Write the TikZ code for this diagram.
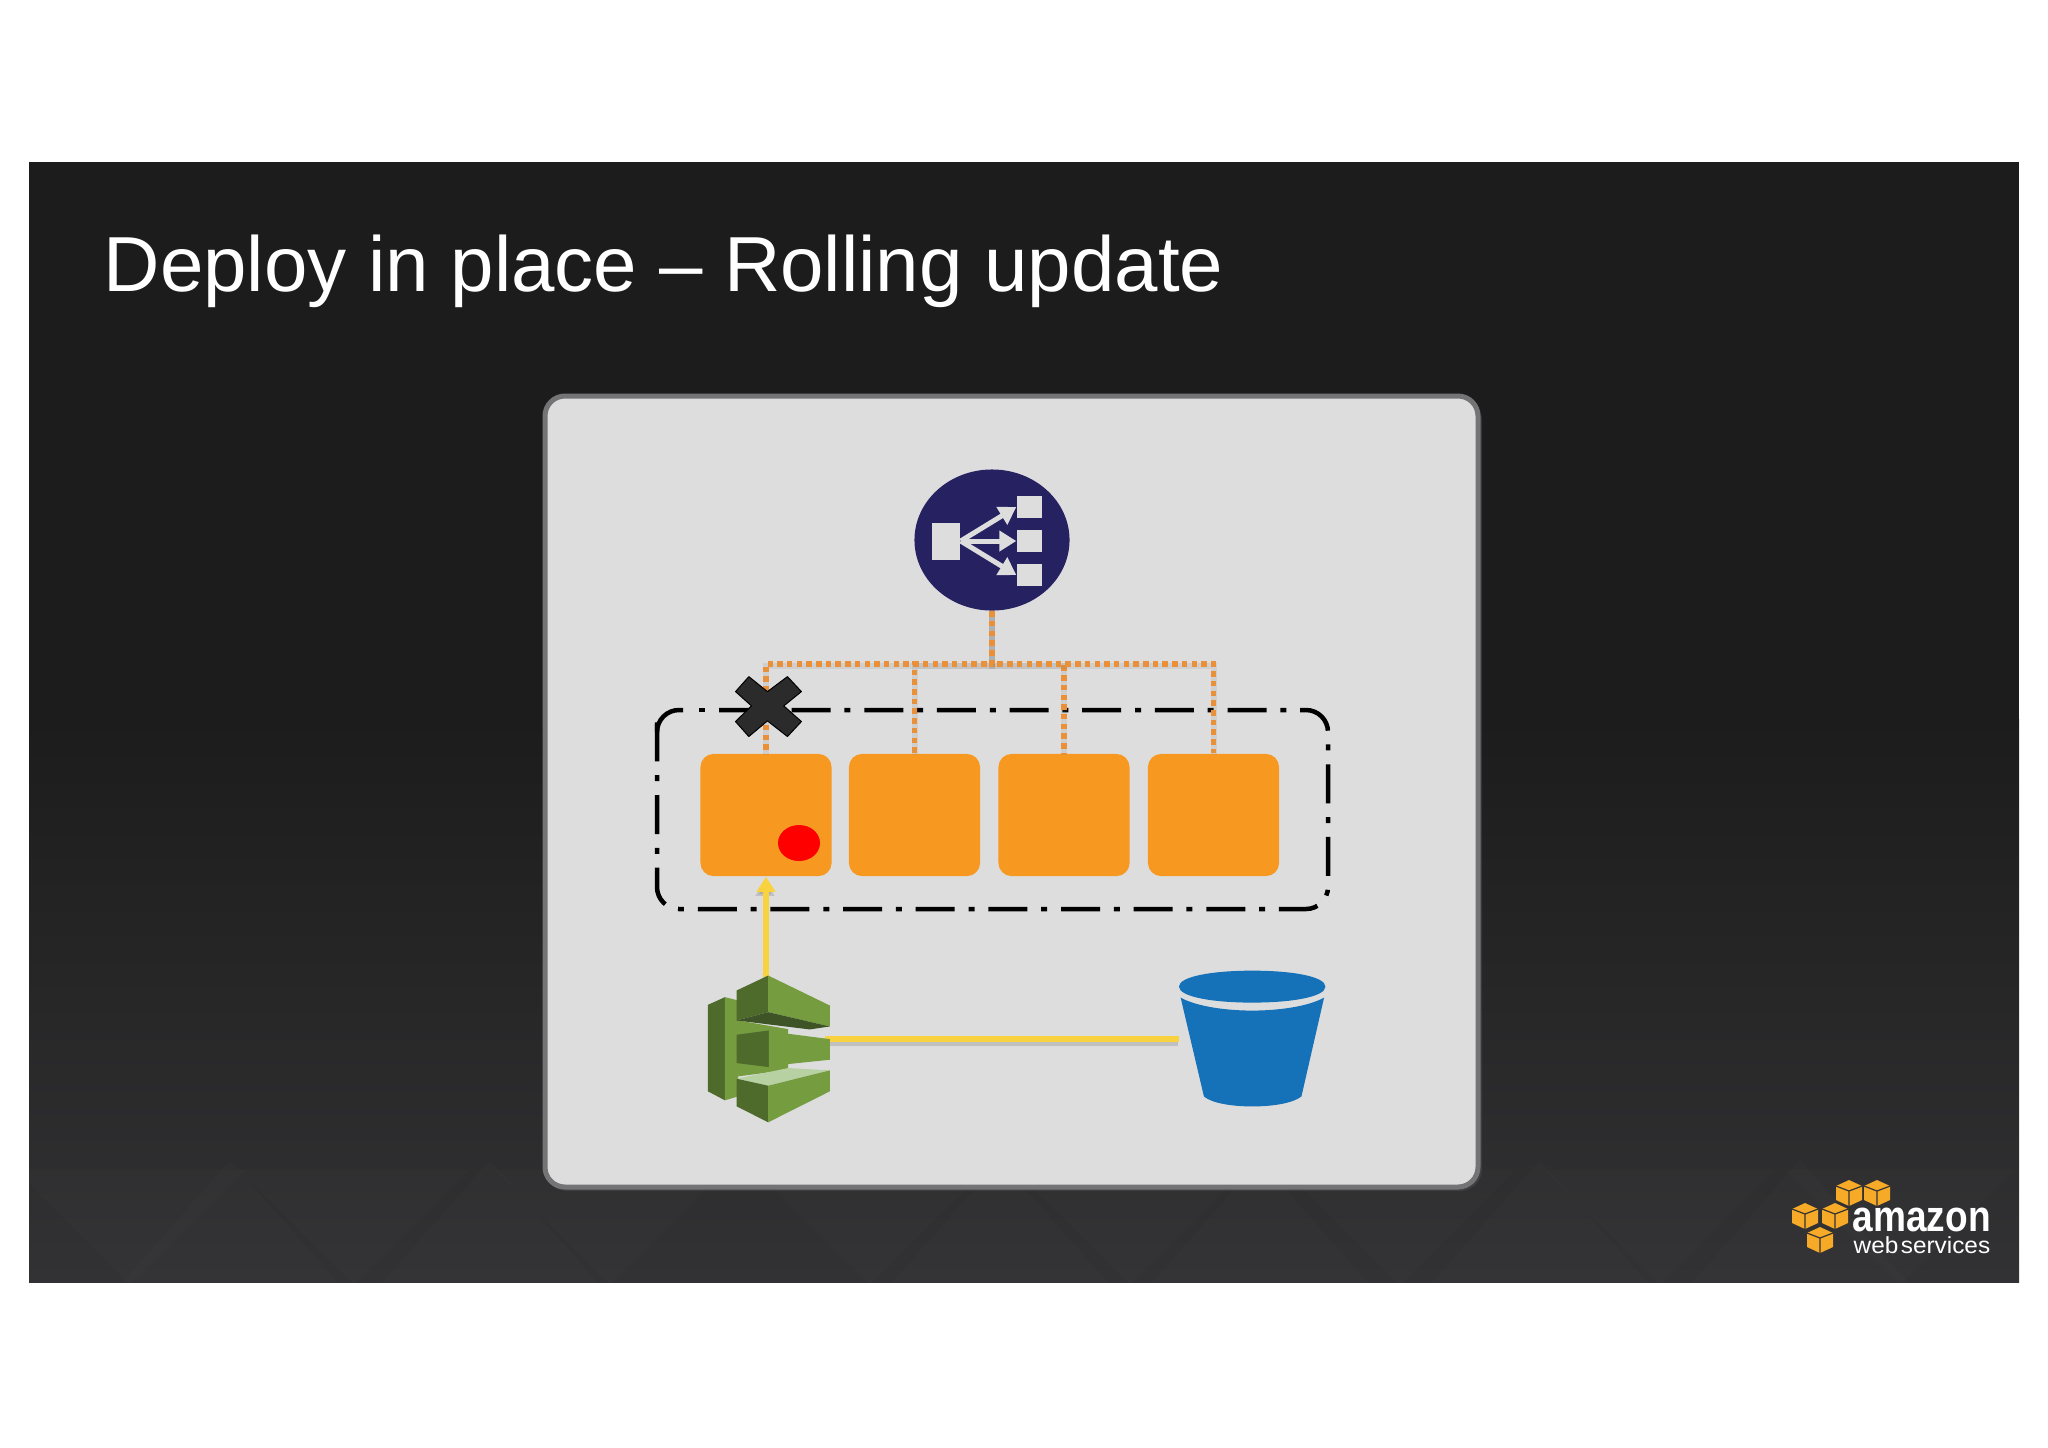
\documentclass[tikz,border=0pt]{standalone}
\usepackage{fontspec}
\setmainfont{Liberation Sans}
\usetikzlibrary{arrows.meta,shapes.geometric}
\definecolor{slidetop}{HTML}{1C1C1C}
\definecolor{slidebottom}{HTML}{323234}
\definecolor{panelgrey}{HTML}{DDDDDE}
\definecolor{panelline}{HTML}{747476}
\definecolor{elbblue}{HTML}{262262}
\definecolor{instorange}{HTML}{F79820}
\definecolor{dotorange}{HTML}{E99038}
\definecolor{deployyellow}{HTML}{F8D23F}
\definecolor{greenlight}{HTML}{759C3E}
\definecolor{greendark}{HTML}{4E6B2C}
\definecolor{greendeep}{HTML}{3E5426}
\definecolor{greenpale}{HTML}{B8D1A2}
\definecolor{bucketblue}{HTML}{1571B8}
\definecolor{cubeorange}{HTML}{F7A928}
\tikzset{
    inst/.style={fill=instorange, rounded corners=0.13cm, minimum width=1.31cm, minimum height=1.22cm, inner sep=0pt},
    dotline/.style={line width=0.055cm, draw=dotorange, dash pattern=on 0.055cm off 0.042cm,
        preaction={draw=gray, solid, line width=0.06cm, opacity=0.14, transform canvas={yshift=-0.02cm}}},
    yellowline/.style={line width=0.055cm, draw=deployyellow,
        preaction={draw=gray, line width=0.05cm, opacity=0.3, transform canvas={yshift=-0.04cm,xshift=-0.01cm}}},
    boxsquare/.style={fill=panelgrey},
    groupline/.style={line width=0.045cm, rounded corners=0.22cm},
}
\begin{document}
\begin{tikzpicture}[x=0.01cm,y=-0.01cm]
    \useasboundingbox (0,0) rectangle (2048,1447);

    % Slide background
    \fill[slidetop] (29,162) rectangle (2019,720);
    \shade[top color=slidetop, bottom color=slidebottom] (29,719) rectangle (2019,1282);
    \begin{scope}
        \clip (29,162) rectangle (2019,1282);
        \foreach \px in {130,354,610,870,1130,1400,1660,1900}
            \fill[white, opacity=0.012] (\px-115,1170) -- (\px+115,1170) -- (\px,1285) -- cycle;
        \foreach \px in {230,490,1000,1260,1540,1800}
            \fill[white, opacity=0.01] (\px-110,1285) -- (\px,1160) -- (\px+110,1285) -- cycle;
    \end{scope}

    % Title
    \node[anchor=base west, inner sep=0pt, text=white, font=\fontsize{22.2}{27}\selectfont] (title) at (103,291) {Deploy in place – Rolling update};

    % Panel
    \fill[gray!60!black, opacity=0.5, rounded corners=0.22cm] (545,398) rectangle (1482,1191);
    \draw[line width=0.05cm, draw=panelline, fill=panelgrey, rounded corners=0.2cm] (545,396) rectangle (1478,1187);

    % Group of instances
    \draw[groupline, dash pattern=on 0.39cm off 0.138cm on 0.06cm off 0.138cm]
        (719,710) -- (1328,710) -- (1328,909) -- (657,909) -- (657,722);
    \draw[groupline] (657,724) -- (657,710) -- (683,710);
    \draw[groupline] (699,710) -- (705,710);

    % Instances
    \node[inst] (inst1) at (766,815) {};
    \node[inst] (inst2) at (914.5,815) {};
    \node[inst] (inst3) at (1064,815) {};
    \node[inst] (inst4) at (1213.5,815) {};
    \node[ellipse, fill=red, minimum width=0.42cm, minimum height=0.36cm, inner sep=0pt] (dot) at (799,843) {};

    % Load balancer
    \node[ellipse, fill=elbblue, minimum width=1.55cm, minimum height=1.41cm, inner sep=0pt] (elb) at (992,540) {};
    \node[boxsquare, minimum width=0.28cm, minimum height=0.37cm, inner sep=0pt] (elbin) at (946,541) {};
    \foreach \i/\py in {1/507,2/541,3/575}
        \node[boxsquare, minimum width=0.25cm, minimum height=0.22cm, inner sep=0pt] (elbout\i) at (1029.5,\py) {};
    \foreach \i in {1,2,3}
        \draw[line width=0.05cm, draw=panelgrey, -{Triangle[length=0.17cm,width=0.2cm]}] (elbin.east) -- (elbout\i.west);

    % Connectors to the instances
    \coordinate (bus) at (992,664);
    \foreach \i in {1,...,4}
        \draw[dotline] (elb.south) -- (bus) -| (inst\i.north);

    % Cross
    \begin{scope}[shift={(640,640)},x=0.003333cm,y=-0.003333cm]
        \draw[fill=black!83, draw=black, line width=0.01cm, line join=round] (327,110) -- (383,155) -- (443,110) -- (485,155)
            -- (432,198) -- (485,245) -- (443,290) -- (383,243) -- (327,290) -- (287,245) -- (335,198) -- (287,155) -- cycle;
    \end{scope}

    % Deploy arrows
    \coordinate (deploy) at (766,977);
    \coordinate (deployside) at (825,1039);
    \coordinate (bucket) at (1179,1039);
    \draw[yellowline, -{Triangle[length=0.15cm,width=0.18cm]}] (deploy) -- (inst1.south);
    \draw[yellowline] (deployside) -- (bucket);

    % Deploy icon
    \begin{scope}[shift={(680,880)},x=0.003333cm,y=-0.003333cm]
        \fill[greendark] (84,375) -- (135,352) -- (135,662) -- (84,635) -- cycle;
        \fill[greenlight] (135,352) -- (175,362) -- (175,422) -- (325,448) -- (325,570) -- (175,590) -- (175,650) -- (135,662) -- cycle;
        % top bar
        \fill[greendark] (170,332) -- (265,287) -- (265,397) -- (170,422) -- cycle;
        \fill[greenlight] (265,287) -- (450,377) -- (450,440) -- (265,397) -- cycle;
        \fill[greendeep] (170,422) -- (265,397) -- (450,440) -- (390,449) -- cycle;
        % middle bar
        \fill[greendark] (170,465) -- (267,452) -- (267,562) -- (170,550) -- cycle;
        \fill[greenlight] (267,452) -- (325,462) -- (450,478) -- (450,540) -- (325,553) -- (267,562) -- cycle;
        % bottom bar
        \fill[greenpale] (170,597) -- (325,565) -- (450,572) -- (265,618) -- cycle;
        \fill[greendark] (170,597) -- (265,618) -- (265,728) -- (170,680) -- cycle;
        \fill[greenlight] (265,618) -- (450,572) -- (450,635) -- (265,728) -- cycle;
    \end{scope}

    % Bucket
    \begin{scope}[shift={(1160,950)},x=0.003333cm,y=-0.003333cm]
        \fill[bucketblue] (277,62) .. controls (400,62) and (497,80) .. (497,110) .. controls (497,140) and (400,158) .. (277,158)
            .. controls (155,158) and (57,140) .. (57,110) .. controls (57,80) and (155,62) .. (277,62) -- cycle;
        \fill[bucketblue] (62,143) .. controls (110,170) and (200,182) .. (277,182) .. controls (355,182) and (445,170) .. (493,143)
            -- (425,440) .. controls (400,460) and (340,470) .. (277,470) .. controls (215,470) and (155,460) .. (132,440) -- cycle;
    \end{scope}

    % Logo
    \foreach \cx/\cy in {1849/1180,1877/1180,1805/1203,1835/1203,1820/1227} {
        \begin{scope}[shift={(\cx,\cy)}]
            \fill[cubeorange] (0,0) -- (13,6) -- (13,20) -- (0,26) -- (-13,20) -- (-13,6) -- cycle;
            \draw[black!80, line width=0.012cm] (-13,6) -- (0,11) -- (13,6) (0,11) -- (0,26);
        \end{scope}
    }
    \node[anchor=base west, inner sep=0pt, text=white, font=\fontsize{12.4}{14}\selectfont\bfseries] (amazon) at (1852,1231) {\scalebox{0.85}[1]{amazon}};
    \node[anchor=base west, inner sep=0pt, text=white, font=\fontsize{6.6}{8}\selectfont] (webservices) at (1853,1253) {\scalebox{1.05}[1]{web\kern0.1em services}};
\end{tikzpicture}
\end{document}
